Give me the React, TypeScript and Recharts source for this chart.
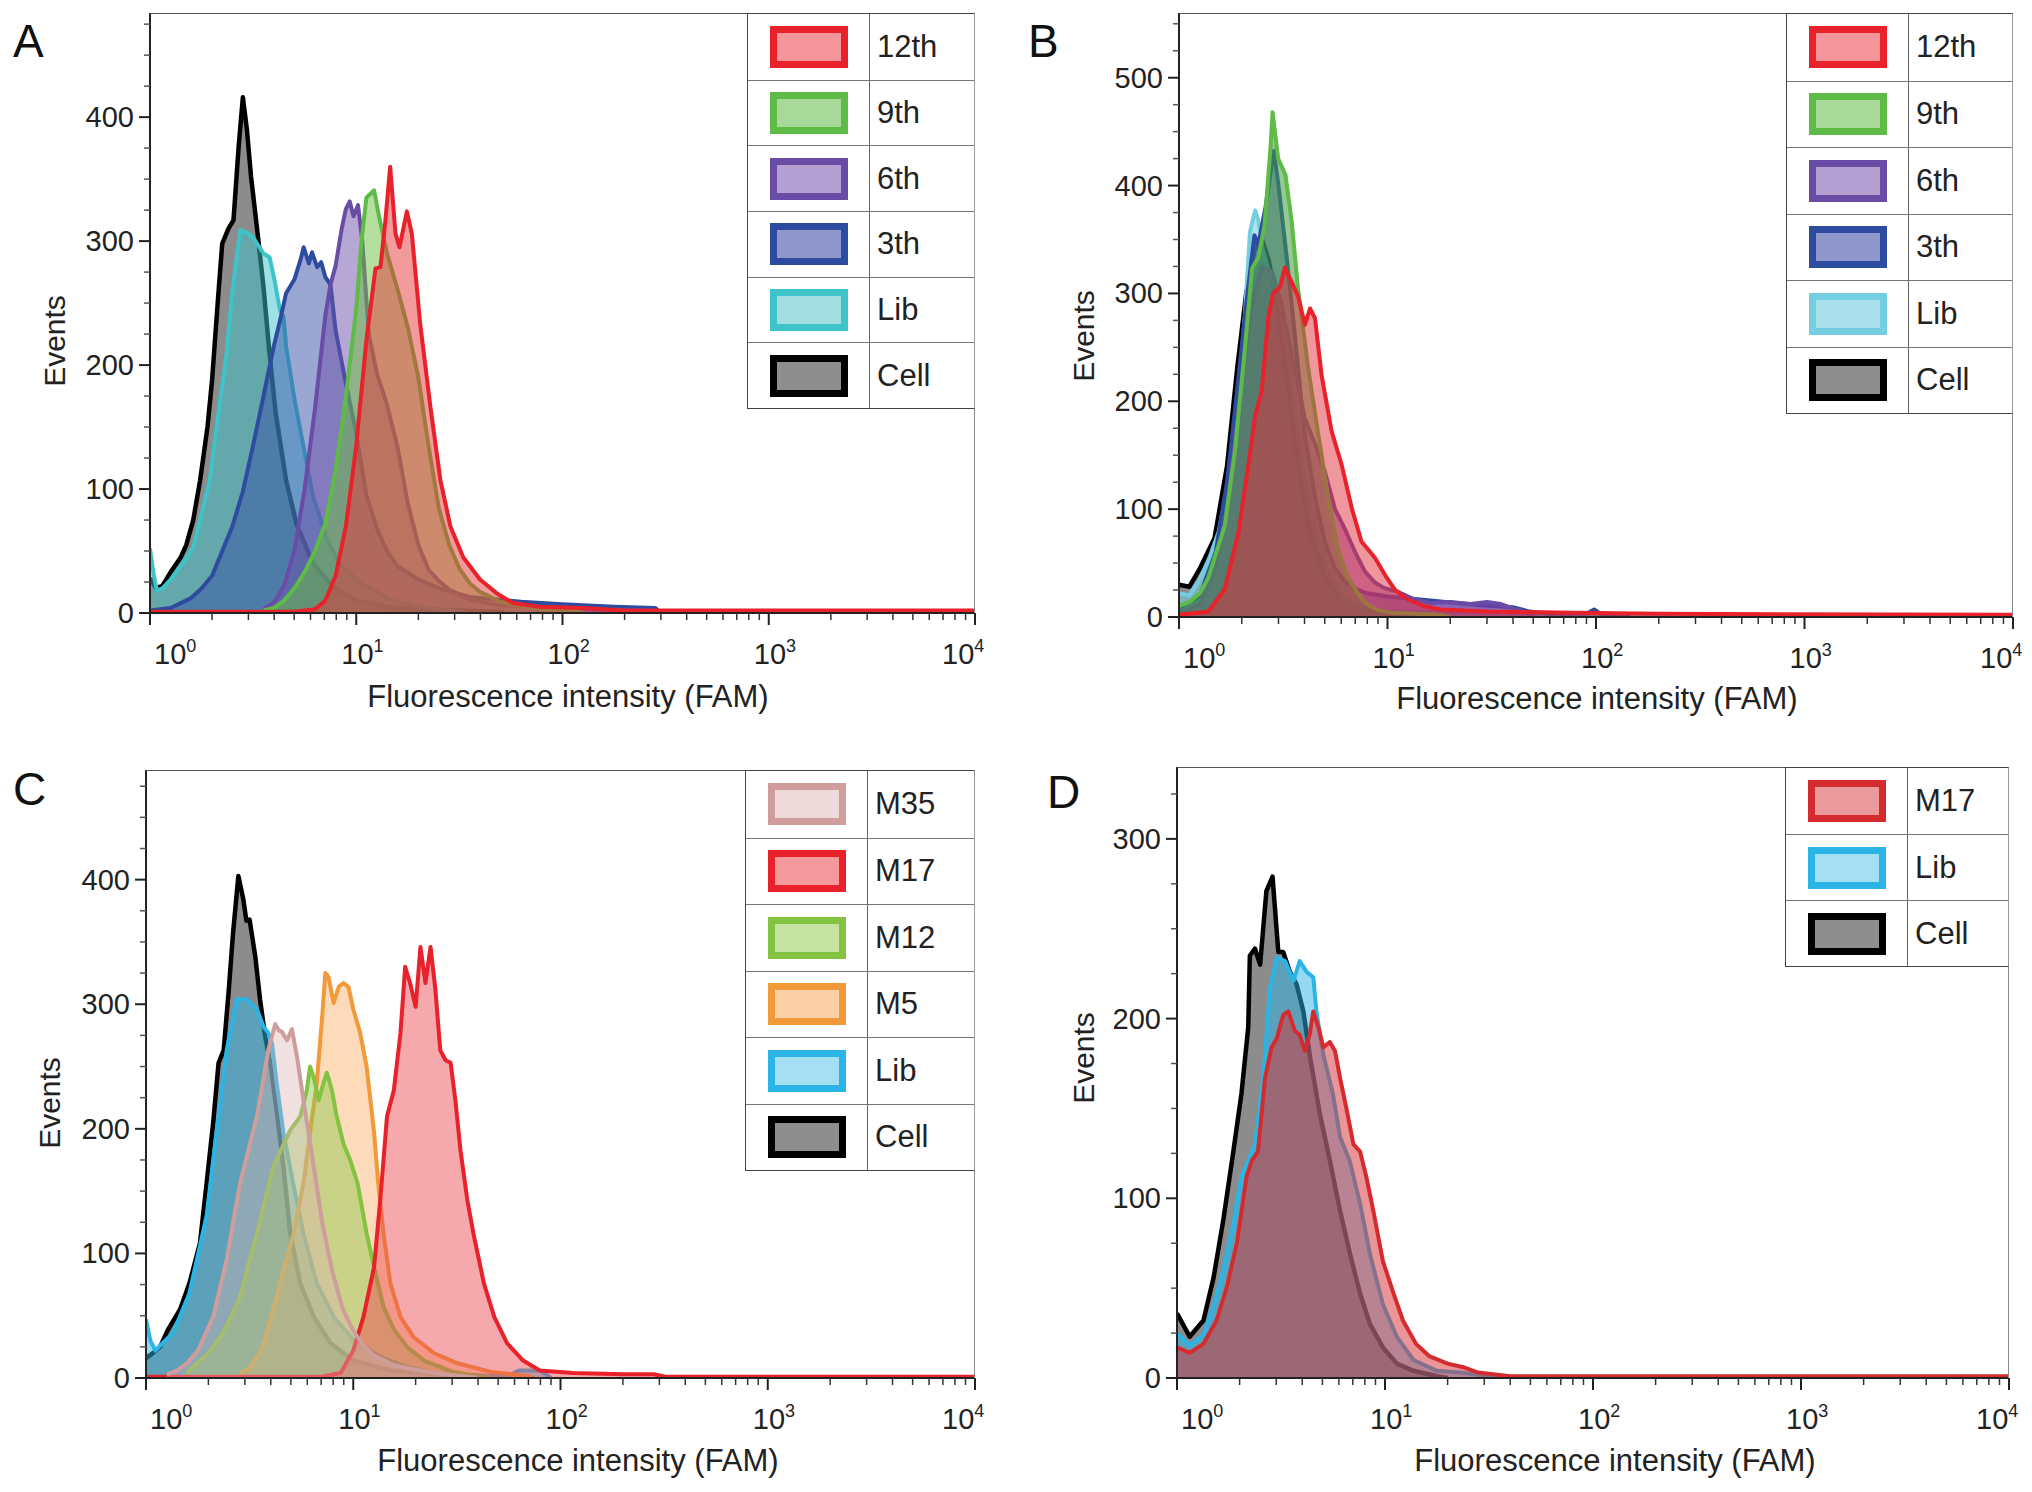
import React from 'react';
import { ComposedChart, Area, XAxis, YAxis } from 'recharts';

type Pt = [number, number];

// ---- A: selection rounds, [FAM intensity, events]
const cellA: Pt[] = [[1, 28], [1.07, 20], [1.15, 22], [1.26, 33], [1.41, 45], [1.5, 55], [1.62, 75], [1.75, 107], [1.9, 150], [2.0, 188], [2.14, 255], [2.24, 298], [2.4, 310], [2.54, 317], [2.69, 376], [2.82, 416], [2.95, 390], [3.09, 352], [3.31, 309], [3.55, 263], [3.8, 209], [4.07, 161], [4.57, 107], [5.13, 72], [6.17, 40], [7.76, 21], [10, 10], [14.1, 5], [20, 3], [50, 1], [52, 0]];
const libA: Pt[] = [[1, 52], [1.04, 32], [1.08, 18], [1.15, 20], [1.26, 27], [1.41, 38], [1.62, 53], [1.95, 107], [2.14, 160], [2.34, 206], [2.51, 260], [2.74, 309], [3.0, 306], [3.16, 303], [3.55, 290], [3.8, 287], [4.0, 270], [4.27, 244], [4.44, 239], [4.57, 215], [5.0, 174], [5.55, 134], [6.17, 94], [7.24, 59], [8.3, 40], [10, 27], [11.2, 22], [12.6, 17], [14.1, 12], [15.8, 9], [20, 5], [25, 3], [31.6, 1], [35, 0]];
const r3A: Pt[] = [[1, 2], [1.26, 4], [1.58, 12], [1.78, 20], [2.0, 30], [2.24, 50], [2.51, 70], [2.82, 98], [3.16, 135], [3.55, 175], [3.98, 215], [4.27, 236], [4.57, 258], [5.01, 269], [5.37, 285], [5.56, 295], [5.89, 282], [6.1, 291], [6.46, 279], [6.76, 283], [7.08, 271], [7.5, 265], [7.94, 228], [8.91, 185], [10, 145], [11.2, 95], [12.6, 68], [14.1, 50], [15.8, 38], [20, 27], [25.1, 20], [35.5, 13], [63, 9], [100, 7], [178, 5], [282, 4], [300, 0]];
const r6A: Pt[] = [[3.55, 3], [3.98, 8], [4.47, 22], [5.01, 50], [5.62, 100], [6.31, 165], [7.08, 240], [7.5, 265], [7.94, 280], [8.5, 310], [8.91, 326], [9.3, 332], [9.7, 320], [10.2, 329], [10.7, 300], [11.5, 225], [12.6, 193], [14.1, 168], [15.8, 135], [17.8, 88], [20, 55], [22.4, 35], [25.1, 26], [28.2, 19], [35.5, 11], [50, 6], [79, 5], [126, 3], [251, 2], [282, 0]];
const r9A: Pt[] = [[3.55, 2], [3.98, 4], [4.47, 10], [5.01, 20], [5.62, 33], [6.31, 50], [7.08, 72], [7.94, 115], [8.91, 175], [10, 245], [10.6, 300], [11.2, 335], [12.2, 341], [12.9, 320], [14.1, 290], [15.8, 262], [17.8, 230], [20, 190], [22.4, 135], [25.1, 85], [28.2, 55], [31.6, 36], [35.5, 24], [39.8, 17], [44.7, 13], [50, 9], [63, 6], [79, 3], [112, 2], [126, 0]];
const r12A: Pt[] = [[1, 1], [5, 1], [6.31, 3], [7.08, 10], [7.94, 30], [8.91, 70], [10, 135], [11.2, 220], [12.4, 278], [13.1, 279], [13.8, 314], [14.6, 360], [15.5, 306], [16.2, 295], [17.6, 324], [18.6, 306], [20.4, 234], [22.9, 166], [25.6, 107], [28.6, 70], [33, 45], [39.8, 27], [47.9, 16], [57.5, 8], [77.6, 5], [126, 4], [200, 2], [10000, 2]];

// ---- B
const cellB: Pt[] = [[1, 30], [1.12, 28], [1.26, 45], [1.48, 73], [1.7, 140], [1.9, 230], [2.1, 300], [2.3, 340], [2.5, 350], [2.7, 330], [3.0, 280], [3.4, 200], [3.8, 130], [4.3, 75], [5.0, 38], [6.0, 18], [7.5, 8], [10, 4], [15, 2], [20, 0]];
const libB: Pt[] = [[1, 22], [1.12, 20], [1.26, 35], [1.4, 55], [1.55, 79], [1.73, 127], [1.93, 203], [2.07, 280], [2.19, 357], [2.32, 377], [2.4, 368], [2.51, 342], [2.7, 320], [3.0, 300], [3.3, 250], [3.6, 190], [4.0, 130], [4.5, 80], [5.0, 48], [5.6, 28], [6.3, 16], [7.9, 8], [10, 5], [20, 4], [50, 3], [100, 3], [280, 2], [290, 0]];
const r3B: Pt[] = [[1, 8], [1.26, 20], [1.5, 60], [1.7, 125], [1.9, 210], [2.1, 290], [2.3, 354], [2.4, 345], [2.6, 380], [2.85, 432], [3.0, 400], [3.3, 330], [3.6, 260], [4.0, 170], [4.5, 110], [5.0, 70], [5.6, 45], [6.3, 32], [7.0, 26], [8.0, 22], [10, 19], [13.2, 17], [19, 14], [28, 11], [40, 9], [48, 5], [60, 3], [90, 3], [98, 7], [105, 3], [140, 2], [145, 0]];
const r6B: Pt[] = [[1, 3], [1.26, 12], [1.5, 45], [1.7, 100], [1.9, 180], [2.1, 250], [2.3, 300], [2.5, 325], [2.8, 320], [3.1, 290], [3.5, 240], [4.0, 185], [4.5, 160], [5.0, 135], [5.6, 100], [6.3, 80], [7.0, 60], [7.8, 42], [8.7, 32], [9.6, 27], [11, 24], [13.2, 17], [16, 13], [20, 14], [25, 12], [30, 14], [35, 12], [40, 8], [48, 3], [52, 0]];
const r9B: Pt[] = [[1, 10], [1.12, 14], [1.26, 22], [1.38, 36], [1.66, 85], [1.86, 156], [2.07, 249], [2.24, 323], [2.4, 333], [2.57, 363], [2.75, 436], [2.81, 468], [2.99, 425], [3.24, 410], [3.47, 367], [3.72, 305], [4.17, 230], [4.66, 169], [5.2, 110], [5.8, 63], [6.3, 42], [6.76, 30], [7.6, 16], [8.1, 11], [9.1, 6], [10.5, 4], [18, 2], [20, 0]];
const r12B: Pt[] = [[1, 2], [1.38, 5], [1.66, 26], [1.93, 79], [2.15, 141], [2.32, 187], [2.49, 209], [2.69, 280], [2.83, 300], [3.05, 306], [3.22, 324], [3.39, 315], [3.73, 297], [4.02, 271], [4.25, 286], [4.49, 277], [4.83, 224], [5.4, 172], [6.03, 141], [6.76, 100], [7.5, 70], [8.7, 55], [9.8, 38], [10.9, 25], [12.6, 16], [15, 10], [18, 7], [30, 5], [80, 4], [200, 3], [10000, 2]];

// ---- C: aptamer candidates
const cellC: Pt[] = [[1, 16], [1.08, 20], [1.17, 25], [1.27, 38], [1.46, 55], [1.62, 76], [1.82, 108], [1.96, 156], [2.11, 205], [2.24, 253], [2.37, 263], [2.51, 312], [2.63, 357], [2.79, 403], [2.95, 384], [3.05, 367], [3.16, 368], [3.37, 338], [3.55, 304], [3.76, 274], [3.98, 253], [4.27, 215], [4.6, 170], [4.97, 116], [5.55, 76], [6.46, 49], [7.76, 28], [10, 14], [15.1, 6], [26.3, 3], [50, 1], [55, 0]];
const libC: Pt[] = [[1, 47], [1.05, 30], [1.11, 22], [1.2, 28], [1.35, 36], [1.62, 68], [1.96, 130], [2.19, 197], [2.45, 263], [2.74, 304], [3.06, 304], [3.43, 296], [3.69, 282], [3.89, 277], [4.05, 269], [4.27, 237], [4.6, 197], [5.13, 156], [5.75, 116], [6.67, 76], [8.04, 49], [10, 31], [13.5, 17], [18.2, 9], [24, 4], [38, 2], [55, 1], [63, 6], [80, 6], [90, 0]];
const m5C: Pt[] = [[2.82, 3], [3.16, 8], [3.55, 20], [3.83, 36], [4.44, 76], [5.15, 116], [5.75, 156], [6.19, 197], [6.67, 237], [7.08, 290], [7.33, 325], [7.59, 322], [8.04, 301], [8.51, 314], [8.97, 317], [9.48, 314], [10, 296], [10.8, 277], [11.6, 250], [12.6, 197], [13.2, 156], [14, 116], [15.1, 76], [16.9, 49], [19.5, 33], [24.5, 20], [31.6, 12], [45.7, 5], [66, 2], [75, 0]];
const m12C: Pt[] = [[1.58, 3], [1.62, 6], [2.0, 20], [2.35, 36], [2.82, 63], [3.43, 116], [4.12, 170], [4.97, 199], [5.55, 210], [5.97, 231], [6.19, 250], [6.43, 242], [6.81, 223], [7.19, 237], [7.46, 245], [7.89, 231], [8.32, 210], [8.97, 188], [9.66, 175], [10.5, 156], [11.6, 116], [12.6, 89], [14, 57], [15.7, 39], [18.2, 25], [21.9, 14], [26.3, 9], [30, 5], [38, 2], [45, 0]];
const m17C: Pt[] = [[1, 1], [7, 1], [8.7, 4], [10, 22], [11.2, 49], [12.6, 89], [13.5, 143], [14.55, 210], [15.7, 231], [16.9, 277], [17.8, 330], [18.8, 317], [20, 298], [21.1, 346], [22.3, 317], [23.6, 346], [24.9, 312], [26.3, 263], [27.9, 255], [29.5, 253], [31.1, 223], [32.9, 183], [35.5, 143], [38, 116], [42.7, 76], [47.9, 49], [55.2, 28], [66, 14], [79.4, 6], [115, 4], [200, 3], [282, 3], [320, 1], [10000, 1]];
const m35C: Pt[] = [[1.26, 3], [1.41, 6], [1.58, 12], [1.78, 22], [2.11, 49], [2.45, 95], [2.84, 156], [3.43, 210], [3.89, 263], [4.2, 284], [4.38, 279], [4.52, 278], [4.79, 271], [5.06, 280], [5.35, 258], [5.75, 223], [6.31, 180], [7.08, 125], [7.94, 85], [8.91, 55], [10, 38], [11.2, 26], [12.6, 18], [15.8, 10], [22.4, 5], [31.6, 2], [40, 0]];

// ---- D
const cellD: Pt[] = [[1, 36], [1.15, 23], [1.34, 32], [1.5, 56], [1.67, 88], [1.86, 125], [2.04, 158], [2.2, 195], [2.24, 235], [2.37, 239], [2.51, 230], [2.69, 271], [2.88, 279], [3.07, 237], [3.24, 237], [3.49, 226], [3.76, 219], [4.05, 204], [4.37, 178], [4.86, 147], [5.43, 121], [6.08, 93], [6.79, 69], [7.59, 47], [8.47, 30], [9.77, 17], [11.4, 8], [13.7, 4], [17.8, 1], [20, 0]];
const libD: Pt[] = [[1, 25], [1.15, 18], [1.34, 24], [1.5, 40], [1.67, 60], [1.86, 85], [2.04, 112], [2.24, 123], [2.37, 130], [2.6, 167], [2.8, 217], [3.02, 234], [3.31, 232], [3.63, 221], [3.89, 232], [4.2, 226], [4.52, 223], [4.68, 204], [5.05, 180], [5.62, 158], [6.08, 134], [6.76, 121], [7.59, 97], [8.47, 69], [9.77, 41], [11.4, 23], [13.7, 10], [17.8, 4], [23, 3], [31.6, 1], [40, 0]];
const m17D: Pt[] = [[1, 17], [1.15, 14], [1.34, 19], [1.55, 32], [1.74, 51], [1.94, 75], [2.16, 112], [2.29, 121], [2.45, 126], [2.65, 167], [2.85, 184], [3.02, 189], [3.24, 202], [3.43, 204], [3.69, 193], [3.89, 191], [4.12, 182], [4.34, 191], [4.52, 204], [4.79, 195], [5.05, 184], [5.43, 187], [5.75, 182], [6.08, 167], [6.55, 149], [7.05, 130], [7.59, 126], [8.13, 112], [8.79, 93], [9.77, 65], [11, 47], [12.2, 32], [14.1, 19], [16.4, 12], [20, 8], [23.8, 6], [28, 3], [40, 1], [10000, 1]];

// axis ticks
const xTicks = [1, 2, 3, 4, 5, 6, 7, 8, 9, 10, 20, 30, 40, 50, 60, 70, 80, 90, 100, 200, 300, 400, 500, 600, 700, 800, 900, 1000, 2000, 3000, 4000, 5000, 6000, 7000, 8000, 9000, 10000];
const xMajor = [1, 10, 100, 1000, 10000];
const xPowers = ['0', '1', '2', '3', '4'];
const yTicks400 = [0, 25, 50, 75, 100, 125, 150, 175, 200, 225, 250, 275, 300, 325, 350, 375, 400, 425, 450, 475];
const yTicks500 = [0, 25, 50, 75, 100, 125, 150, 175, 200, 225, 250, 275, 300, 325, 350, 375, 400, 425, 450, 475, 500, 525, 550];
const yTicks300 = [0, 25, 50, 75, 100, 125, 150, 175, 200, 225, 250, 275, 300, 325];

const FONT = '"Liberation Sans", Arial, Helvetica, sans-serif';

interface Series {
  key: string;
  name: string;
  data: Pt[];
  stroke: string;
  fill: string;
  opacity: number;
  swatch: string;
}

const GRAY = { stroke: '#000000', fill: '#8c8c8c', opacity: 1, swatch: '#8e8e8e' };

const seriesA: Series[] = [
  { key: 'cell', name: 'Cell', data: cellA, ...GRAY },
  { key: 'lib', name: 'Lib', data: libA, stroke: '#3ec3c9', fill: '#3ec3c9', opacity: 0.5, swatch: '#a2dde2' },
  { key: 'r3', name: '3th', data: r3A, stroke: '#2e4c9f', fill: '#3550a8', opacity: 0.5, swatch: '#8f97cc' },
  { key: 'r6', name: '6th', data: r6A, stroke: '#6a4ba6', fill: '#6e50aa', opacity: 0.5, swatch: '#b3a0d0' },
  { key: 'r9', name: '9th', data: r9A, stroke: '#5dbb46', fill: '#6cbf3e', opacity: 0.5, swatch: '#a9d99a' },
  { key: 'r12', name: '12th', data: r12A, stroke: '#e8212b', fill: '#e8363a', opacity: 0.5, swatch: '#f3959a' },
];

const seriesB: Series[] = [
  { key: 'cell', name: 'Cell', data: cellB, ...GRAY },
  { key: 'lib', name: 'Lib', data: libB, stroke: '#74cde0', fill: '#74cde0', opacity: 0.55, swatch: '#aae0ec' },
  { key: 'r3', name: '3th', data: r3B, stroke: '#2e4c9f', fill: '#2e4a9c', opacity: 0.55, swatch: '#8f97cc' },
  { key: 'r6', name: '6th', data: r6B, stroke: '#6a4ba6', fill: '#8a3aa8', opacity: 0.55, swatch: '#b3a0d0' },
  { key: 'r9', name: '9th', data: r9B, stroke: '#5dbb46', fill: '#3f9a40', opacity: 0.55, swatch: '#a9d99a' },
  { key: 'r12', name: '12th', data: r12B, stroke: '#e8212b', fill: '#e0303a', opacity: 0.5, swatch: '#f3959a' },
];

const seriesC: Series[] = [
  { key: 'cell', name: 'Cell', data: cellC, ...GRAY },
  { key: 'lib', name: 'Lib', data: libC, stroke: '#2bb5e6', fill: '#2bb5e6', opacity: 0.5, swatch: '#a6dff4' },
  { key: 'm5', name: 'M5', data: m5C, stroke: '#f2993a', fill: '#f7a85a', opacity: 0.42, swatch: '#fbd0a6' },
  { key: 'm12', name: 'M12', data: m12C, stroke: '#84c341', fill: '#8cc84a', opacity: 0.45, swatch: '#c6e3a4' },
  { key: 'm17', name: 'M17', data: m17C, stroke: '#e8212b', fill: '#ec4c52', opacity: 0.48, swatch: '#f59a9c' },
  { key: 'm35', name: 'M35', data: m35C, stroke: '#cf9d9b', fill: '#dcb4b2', opacity: 0.4, swatch: '#eedada' },
];

const seriesD: Series[] = [
  { key: 'cell', name: 'Cell', data: cellD, ...GRAY },
  { key: 'lib', name: 'Lib', data: libD, stroke: '#2bb5e6', fill: '#2bb5e6', opacity: 0.5, swatch: '#a6dff4' },
  { key: 'm17', name: 'M17', data: m17D, stroke: '#d62b2e', fill: '#d8343a', opacity: 0.52, swatch: '#eb9a9c' },
];

function buildRows(series: Series[]) {
  const xs = Array.from(new Set(series.flatMap((s) => s.data.map((p) => p[0])))).sort((a, b) => a - b);
  return xs.map((x) => {
    const row: Record<string, number | null> = { x };
    series.forEach((s) => {
      const p = s.data.find((q) => q[0] === x);
      row[s.key] = p ? p[1] : null;
    });
    return row;
  });
}

const XTick = (props: any) => {
  const { x, y, payload } = props;
  const i = xMajor.indexOf(payload.value);
  if (i < 0) return <line x1={x} x2={x} y1={y} y2={y + 7} stroke="#333" strokeWidth={1.5} />;
  let tx = x - 15;
  if (i === 0) tx = x + 4;
  if (i === xMajor.length - 1) tx = x - 33;
  return (
    <g>
      <line x1={x} x2={x} y1={y} y2={y + 12} stroke="#222" strokeWidth={2} />
      <text x={tx} y={y + 51} fontSize={29} fontFamily={FONT} fill="#222">
        10<tspan dy={-12} fontSize={18}>{xPowers[i]}</tspan>
      </text>
    </g>
  );
};

const YTick = (props: any) => {
  const { x, y, payload } = props;
  const v = payload.value;
  if (v % 100 !== 0) return <line x1={x} x2={x - 6} y1={y} y2={y} stroke="#555" strokeWidth={1.5} />;
  return (
    <g>
      <line x1={x} x2={x - 11} y1={y} y2={y} stroke="#222" strokeWidth={2} />
      <text x={x - 16} y={y + 10} textAnchor="end" fontSize={29} fontFamily={FONT} fill="#222">{v}</text>
    </g>
  );
};

interface PanelProps {
  letter: string;
  series: Series[];
  plot: { left: number; top: number; w: number; h: number };
  yMax: number;
  yTicks: number[];
  legendLeft: number;
  rowH: number;
  letterPos: [number, number];
  eventsPos: [number, number];
  titlePos: [number, number];
}

const ML = 150;
const MR = 15;
const XH = 110;

function Panel({ letter, series, plot, yMax, yTicks, legendLeft, rowH, letterPos, eventsPos, titlePos }: PanelProps) {
  const rows = buildRows(series);
  const chartLeft = plot.left - ML;
  const chartTop = plot.top;
  const width = ML + plot.w + MR;
  const height = plot.h + XH;
  const ex = eventsPos[0] - chartLeft;
  const ey = eventsPos[1] - chartTop;
  const legendItems = [...series].reverse();
  return (
    <>
      <div style={{ position: 'absolute', left: letterPos[0], top: letterPos[1] - 5, fontSize: 46, lineHeight: '46px', fontFamily: FONT, color: '#111' }}>{letter}</div>
      <div style={{ position: 'absolute', left: chartLeft, top: chartTop }}>
        <ComposedChart width={width} height={height} data={rows} margin={{ top: 0, right: MR, bottom: 0, left: ML - 100 }}>
          <XAxis
            dataKey="x"
            type="number"
            scale="log"
            domain={[1, 10000]}
            allowDataOverflow
            ticks={xTicks}
            interval={0}
            tickSize={0}
            tickMargin={0}
            tickLine={false}
            tick={(p: any) => <XTick {...p} />}
            axisLine={{ stroke: '#222', strokeWidth: 2 }}
            height={XH}
            label={() => (
              <text x={titlePos[0] - chartLeft} y={titlePos[1] - chartTop + 10} textAnchor="middle" fontSize={31} fontFamily={FONT} fill="#222">
                Fluorescence intensity (FAM)
              </text>
            )}
          />
          <YAxis
            type="number"
            domain={[0, yMax]}
            allowDataOverflow
            ticks={yTicks}
            interval={0}
            tickSize={0}
            tickMargin={0}
            tickLine={false}
            tick={(p: any) => <YTick {...p} />}
            axisLine={{ stroke: '#222', strokeWidth: 2 }}
            width={100}
            label={() => (
              <text x={ex} y={ey} transform={`rotate(-90, ${ex}, ${ey})`} textAnchor="middle" dominantBaseline="central" fontSize={30} fontFamily={FONT} fill="#222">
                Events
              </text>
            )}
          />
          {series.map((s) => (
            <Area
              key={s.key}
              type="linear"
              dataKey={s.key}
              name={s.name}
              stroke={s.stroke}
              strokeWidth={s.key === 'cell' ? 4.5 : 4}
              strokeLinejoin="round"
              fill={s.fill}
              fillOpacity={s.opacity}
              connectNulls
              dot={false}
              activeDot={false}
              isAnimationActive={false}
            />
          ))}
        </ComposedChart>
      </div>
      <div style={{ position: 'absolute', left: plot.left, top: plot.top, width: plot.w, height: plot.h, boxSizing: 'border-box', borderTop: '1.5px solid #555', borderRight: '1.5px solid #888', pointerEvents: 'none' }} />
      <div style={{ position: 'absolute', left: legendLeft, top: plot.top, width: plot.left + plot.w - legendLeft, boxSizing: 'border-box', border: '1.5px solid #444', borderRightColor: '#999', background: '#fff', fontFamily: FONT }}>
        {legendItems.map((s, i) => (
          <div key={s.key} style={{ display: 'flex', height: rowH, boxSizing: 'border-box', borderTop: i ? '1.5px solid #777' : 'none' }}>
            <div style={{ width: 121, flex: 'none', borderRight: '1.5px solid #666', display: 'flex', alignItems: 'center', justifyContent: 'center' }}>
              <div style={{ width: 78, height: 42, boxSizing: 'border-box', border: `7px solid ${s.stroke}`, background: s.swatch }} />
            </div>
            <div style={{ display: 'flex', alignItems: 'center', paddingLeft: 7, fontSize: 31, color: '#222' }}>{s.name}</div>
          </div>
        ))}
      </div>
    </>
  );
}

export default function App() {
  return (
    <div style={{ position: 'absolute', left: 0, top: 0, width: 2032, height: 1492, background: '#fff', overflow: 'hidden' }}>
      <Panel letter="A" series={seriesA} plot={{ left: 150, top: 13, w: 825, h: 600 }} yMax={484} yTicks={yTicks400}
        legendLeft={747} rowH={65.7} letterPos={[13, 23]} eventsPos={[54, 341]} titlePos={[568, 697]} />
      <Panel letter="B" series={seriesB} plot={{ left: 1179, top: 13, w: 834, h: 604 }} yMax={560} yTicks={yTicks500}
        legendLeft={1786} rowH={66.5} letterPos={[1028, 23]} eventsPos={[1083, 336]} titlePos={[1597, 699]} />
      <Panel letter="C" series={seriesC} plot={{ left: 146, top: 770, w: 829, h: 608 }} yMax={488} yTicks={yTicks400}
        legendLeft={745} rowH={66.5} letterPos={[13, 771]} eventsPos={[49, 1103]} titlePos={[578, 1461]} />
      <Panel letter="D" series={seriesD} plot={{ left: 1177, top: 767, w: 832, h: 611 }} yMax={340} yTicks={yTicks300}
        legendLeft={1785} rowH={66} letterPos={[1047, 774]} eventsPos={[1083, 1058]} titlePos={[1615, 1461]} />
    </div>
  );
}
